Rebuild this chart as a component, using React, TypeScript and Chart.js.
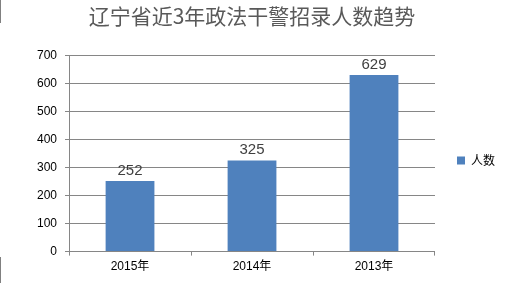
import React, { useEffect, useRef } from "react";
import { Chart, registerables } from "chart.js";

Chart.register(...registerables);

const TITLE = "辽宁省近3年政法干警招录人数趋势";
const CATEGORIES = ["2015年", "2014年", "2013年"];
const SERIES_NAME = "人数";
const VALUES = [252, 325, 629];
const Y_MIN = 0;
const Y_MAX = 700;
const Y_STEP = 100;

const FONT = "'Liberation Sans', 'Noto Sans CJK SC', sans-serif";
const CJK = "'Noto Sans CJK SC', 'Liberation Sans', sans-serif";
const BAR = "#4F81BD";
const GRID = "#868686";

const labelPlugin = {
  id: "valueLabels",
  afterDatasetsDraw(chart: any) {
    const ctx = chart.ctx;
    const meta = chart.getDatasetMeta(0);
    ctx.save();
    ctx.font = "15px " + FONT;
    ctx.fillStyle = "#404040";
    ctx.textAlign = "center";
    ctx.textBaseline = "bottom";
    meta.data.forEach((el: any, i: number) => {
      ctx.fillText(String(VALUES[i]), el.x, el.y - 3);
    });
    ctx.restore();
  },
};

export default function App() {
  const ref = useRef<HTMLCanvasElement | null>(null);
  useEffect(() => {
    document.body.style.margin = "0";
    const canvas = ref.current!;
    const chart = new Chart(canvas, {
      type: "bar",
      data: {
        labels: CATEGORIES,
        datasets: [
          {
            label: SERIES_NAME,
            data: VALUES,
            backgroundColor: BAR,
            borderWidth: 0,
            barPercentage: 0.4,
            categoryPercentage: 1,
          },
        ],
      },
      options: {
        responsive: false,
        animation: false,
        devicePixelRatio: 1,
        layout: { padding: { left: 29, right: 18, top: 0, bottom: 5 } },
        plugins: {
          title: {
            display: true,
            text: TITLE,
            fullSize: false,
            color: "#595959",
            font: { family: CJK, size: 21, weight: "normal" },
            padding: { top: 3, bottom: 27 },
          },
          legend: {
            display: true,
            position: "right",
            fullSize: false,
            title: { display: true, text: " ", font: { size: 10 }, padding: 1 },
            labels: {
              boxWidth: 8,
              boxHeight: 8,
              padding: 22,
              color: "#000",
              font: { family: CJK, size: 12 },
            },
          },
          tooltip: { enabled: false },
        },
        scales: {
          x: {
            grid: {
              display: true,
              drawOnChartArea: false,
              drawTicks: true,
              tickLength: 4,
              color: GRID,
            },
            border: { color: GRID },
            ticks: { color: "#000", font: { family: FONT, size: 12 }, padding: 4 },
          },
          y: {
            min: Y_MIN,
            max: Y_MAX,
            ticks: {
              stepSize: Y_STEP,
              color: "#000",
              font: { family: FONT, size: 12 },
              padding: 8,
            },
            grid: { color: GRID, tickLength: 4 },
            border: { color: GRID },
          },
        },
      },
      plugins: [labelPlugin],
    });
    return () => chart.destroy();
  }, []);
  return (
    <div style={{ position: "relative", width: 523, height: 283 }}>
      <canvas ref={ref} width={523} height={283} style={{ display: "block" }} />
      <div style={{ position: "absolute", left: 0, top: 0, width: 1, height: 23, background: "#808080" }} />
      <div style={{ position: "absolute", left: 0, top: 257, width: 1, height: 26, background: "#808080" }} />
    </div>
  );
}
